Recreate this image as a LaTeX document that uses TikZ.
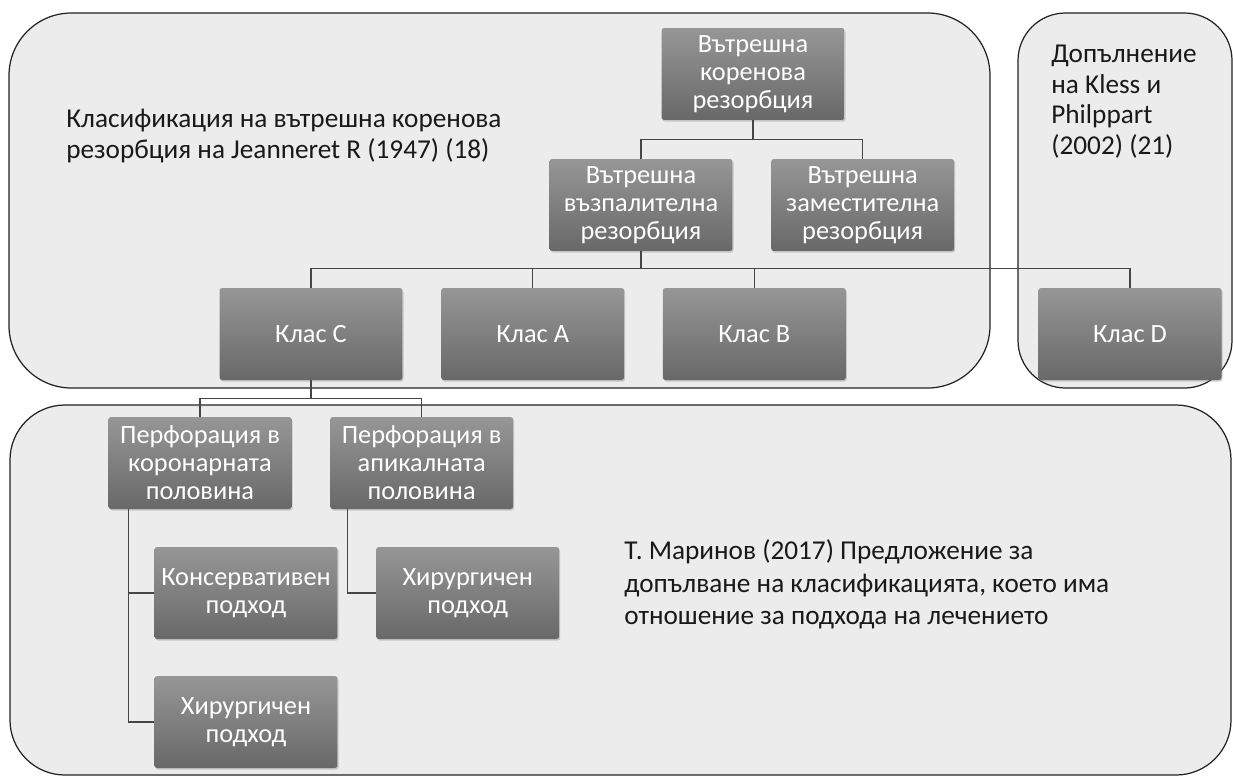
\documentclass[tikz,border=0pt]{standalone}
\usepackage{fontspec}
\setmainfont{Carlito}
\usetikzlibrary{positioning, shadows}

\definecolor{panelfill}{RGB}{236,236,236}
\definecolor{paneledge}{RGB}{35,35,35}
\definecolor{boxtop}{RGB}{150,150,150}
\definecolor{boxbot}{RGB}{104,104,104}
\definecolor{linkgray}{RGB}{70,70,70}

\begin{document}
\begin{tikzpicture}[x=0.02cm, y=-0.02cm,
  panel/.style={draw=paneledge, fill=panelfill, line width=0.7pt},
  box/.style={rectangle, rounded corners=1.5pt, top color=boxtop, bottom color=boxbot, draw=none, text=white, align=center, minimum width=3.66cm, minimum height=1.84cm, inner sep=1pt, font=\fontsize{15}{16}\selectfont, drop shadow={shadow xshift=0.6pt, shadow yshift=-0.9pt, opacity=0.35}},
  link/.style={draw=linkgray, line width=0.6pt},
  note/.style={anchor=north west, align=left, inner sep=0pt, text=black!90, font=\fontsize{15.5}{17.6}\selectfont},
  node distance=0.76cm]
\useasboundingbox (0,0) rectangle (1233,778);
\fill[white] (0,0) rectangle (1233,778);

% panels
\begin{scope}
\clip (0,0) rectangle (1233,778);
\draw[panel, rounded corners=1.25cm] (9,13) rectangle (990,388);
\draw[panel, rounded corners=0.95cm] (1018,13) rectangle (1232,388);
\draw[panel, rounded corners=1.1cm] (10,405) rectangle (1231,775);
\end{scope}

\node[note] (jeanneret) at (66,109) {Класификация на вътрешна коренова\\резорбция на Jeanneret R (1947) (18)};
\node[note, font=\fontsize{15.5}{17.3}\selectfont] (kless) at (1051,45) {Допълнение\\на Kless и\\Philppart\\(2002) (21)};
\node[note, font=\fontsize{15.5}{18.7}\selectfont] (marinov) at (624,539) {Т. Маринов (2017) Предложение за\\допълване на класификацията, което има\\отношение за подхода на лечението};

% tree
\node[box] (root) at (753,74) {Вътрешна\\коренова\\резорбция};
\node[box] (inflam) at (641,205) {Вътрешна\\възпалителна\\резорбция};
\node[box, right=of inflam] (replace) {Вътрешна\\заместителна\\резорбция};

\node[box] (classC) at (311,334) {Клас C};
\node[box, right=of classC] (classA) {Клас A};
\node[box, right=of classA] (classB) {Клас B};
\node[box] (classD) at (1130,334) {Клас D};

\node[box] (coronal) at (200,463) {Перфорация в\\коронарната\\половина};
\node[box, right=of coronal] (apical) {Перфорация в\\апикалната\\половина};

\node[box] (conserv) at (246,593) {Консервативен\\подход};
\node[box, right=of conserv] (surgR) {Хирургичен\\подход};
\node[box] (surgL) at (246,722) {Хирургичен\\подход};

\draw[link] (root.south) -- ++(0,19) -| (inflam.north);
\draw[link] (root.south) -- ++(0,19) -| (replace.north);
\foreach \kid in {classC, classA, classB, classD}
  \draw[link] (inflam.south) -- ++(0,17) -| (\kid.north);
\draw[link] (classC.south) -- ++(0,18) -| (coronal.north);
\draw[link] (classC.south) -- ++(0,18) -| (apical.north);
\draw[link] (coronal.south west) ++(20,0) |- (conserv.west);
\draw[link] (coronal.south west) ++(20,0) |- (surgL.west);
\draw[link] (apical.south west) ++(18,0) |- (surgR.west);
\end{tikzpicture}
\end{document}
